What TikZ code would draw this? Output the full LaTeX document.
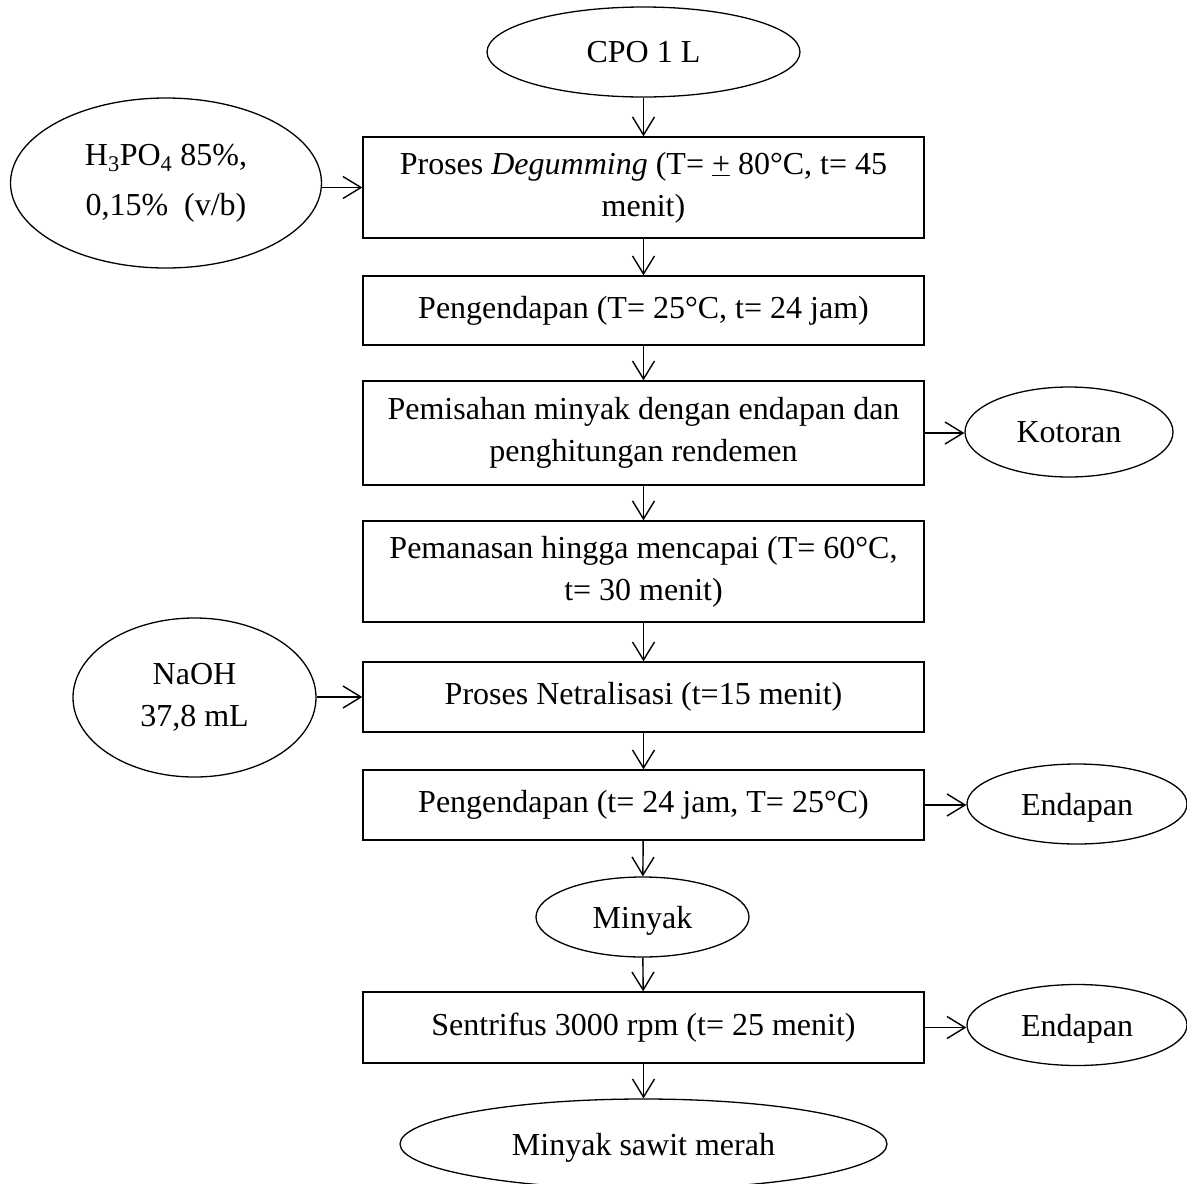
\documentclass[tikz,border=0pt]{standalone}
\usepackage{fontspec}
\setmainfont{Liberation Serif}
\usetikzlibrary{shapes.geometric,arrows.meta}
\begin{document}
\begin{tikzpicture}[x=1pt,y=-1pt,
  every node/.style={font=\fontsize{32}{42}\selectfont, inner sep=0pt, align=center},
  procbox/.style={draw, line width=1.4pt, rectangle, minimum width=561pt},
  term/.style={draw, line width=1.3pt, ellipse},
  flow/.style={line width=1.4pt, -{Straight Barb[length=18pt,width=22pt,line width=1.4pt]}}
]
\useasboundingbox (0,0) rectangle (1187,1184);
% terminals
\node[term, minimum width=313pt, minimum height=90pt] (cpo) at (643.5,52) {CPO 1 L};
\node[term, minimum width=311pt, minimum height=170pt, font=\fontsize{32}{50}\selectfont] (h3po4) at (166,183) {H\textsubscript{3}PO\textsubscript{4} 85\%,\\0,15\%~~(v/b)};
\node[term, minimum width=243pt, minimum height=159pt] (naoh) at (194.5,697.5) {NaOH\\37,8 mL};
\node[term, minimum width=208pt, minimum height=90pt] (kotoran) at (1069,432) {Kotoran};
\node[term, text depth=0pt, minimum width=220pt, minimum height=80pt] (endapan1) at (1077,804) {Endapan};
\node[term, text depth=0pt, minimum width=213pt, minimum height=80pt] (minyak) at (642.5,917) {Minyak};
\node[term, text depth=0pt, minimum width=220pt, minimum height=81pt] (endapan2) at (1077,1025) {Endapan};
\node[term, text depth=0pt, minimum width=487pt, minimum height=90pt] (msm) at (643.5,1144) {Minyak sawit merah};
% process boxes
\node[procbox, minimum height=101pt] (b1) at (643.5,187.5) {Proses \textit{Degumming} (T= \underline{+} 80°C, t= 45\\menit)};
\node[procbox, minimum height=69pt] (b2) at (643.5,310.5) {Pengendapan (T= 25°C, t= 24 jam)};
\node[procbox, minimum height=104pt] (b3) at (643.5,433) {Pemisahan minyak dengan endapan dan\\penghitungan rendemen};
\node[procbox, minimum height=101pt] (b4) at (643.5,571.5) {Pemanasan hingga mencapai (T= 60°C,\\t= 30 menit)};
\node[procbox, minimum height=70pt] (b5) at (643.5,697) {Proses Netralisasi (t=15 menit)};
\node[procbox, minimum height=70pt] (b6) at (643.5,805) {Pengendapan (t= 24 jam, T= 25°C)};
\node[procbox, minimum height=71pt] (b7) at (643.5,1027.5) {Sentrifus 3000 rpm (t= 25 menit)};
% flow
\draw[flow] (cpo) -- (b1);
\draw[flow] (b1) -- (b2);
\draw[flow] (b2) -- (b3);
\draw[flow] (b3) -- (b4);
\draw[flow] (b4) -- (b5);
\draw[flow] (b5) -- (b6);
\draw[flow] (b6) -- (minyak);
\draw[flow] (minyak) -- (b7);
\draw[flow] (b7) -- (msm);
\draw[flow] (h3po4.east |- b1.west) -- (b1.west);
\draw[flow] (naoh.east |- b5.west) -- (b5.west);
\draw[flow] (b3.east) -- (kotoran.west |- b3.east);
\draw[flow] (b6.east) -- (endapan1.west |- b6.east);
\draw[flow] (b7.east) -- (endapan2.west |- b7.east);
\end{tikzpicture}
\end{document}
